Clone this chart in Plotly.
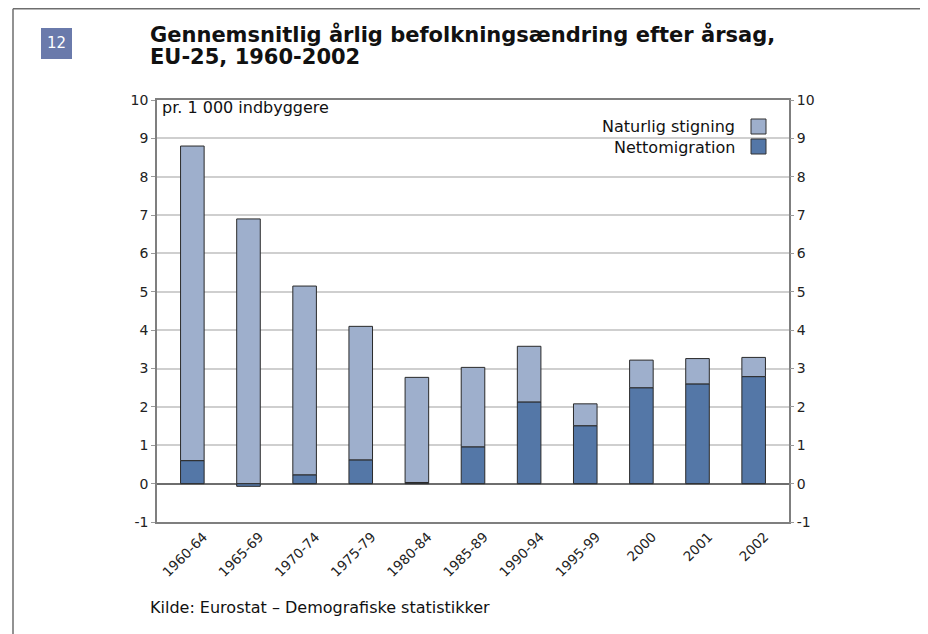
import plotly.graph_objects as go

categories = ["1960-64", "1965-69", "1970-74", "1975-79", "1980-84", "1985-89",
              "1990-94", "1995-99", "2000", "2001", "2002"]
nettomigration = [0.60, -0.07, 0.23, 0.62, 0.03, 0.96, 2.13, 1.51, 2.50, 2.60, 2.79]
naturlig_stigning = [8.20, 6.90, 4.92, 3.48, 2.74, 2.07, 1.45, 0.57, 0.72, 0.66, 0.50]
y_ticks = list(range(-1, 11))
y_ticktext = [str(v) for v in y_ticks]

# page body has an 8px margin; work in reference-pixel coordinates minus that offset
OFF = 8
W, H = 928 - OFF, 634 - OFF
ML, MR, MT, MB = 157 - OFF, 928 - 789, 100 - OFF, 634 - 522
PW, PH = W - ML - MR, H - MT - MB

def px(x):
    return (x - OFF - ML) / PW

def py(y):
    return 1 - (y - OFF - MT) / PH

LIGHT = "#9eafcc"
DARK = "#5477a7"
FONT = "DejaVu Sans"

fig = go.Figure()
fig.add_trace(go.Bar(x=categories, y=nettomigration, name="Nettomigration",
                     marker=dict(color=DARK, line=dict(color="#2a2a2a", width=1))))
fig.add_trace(go.Bar(x=categories, y=naturlig_stigning, name="Naturlig stigning",
                     marker=dict(color=LIGHT, line=dict(color="#2a2a2a", width=1))))
fig.add_trace(go.Scatter(x=categories, y=[None] * len(categories), yaxis="y2",
                         showlegend=False, hoverinfo="skip"))

axis_font = dict(family=FONT, size=14, color="#222")
fig.update_layout(
    width=W, height=H,
    margin=dict(l=ML, r=MR, t=MT, b=MB),
    paper_bgcolor="white", plot_bgcolor="white",
    barmode="relative", bargap=0.58,
    showlegend=False,
    font=dict(family=FONT, color="#111"),
    xaxis=dict(showgrid=False, tickangle=-45, tickfont=dict(family=FONT, size=13.5, color="#222"),
               showline=True, linecolor="#7f7f7f", linewidth=1.5, mirror=True,
               ticks="", ticklabelshift=11, ticklabelstandoff=0),
    yaxis=dict(range=[-1, 10], tickvals=y_ticks, ticktext=y_ticktext, tickfont=axis_font,
               showgrid=True, gridcolor="#cfcfcf", gridwidth=1.5,
               zeroline=True, zerolinecolor="#6e6e6e", zerolinewidth=1.5,
               showline=True, linecolor="#7f7f7f", linewidth=1.5, mirror=True,
               ticks="outside", ticklen=4, tickcolor="#9a9a9a"),
    yaxis2=dict(range=[-1, 10], tickvals=y_ticks, ticktext=y_ticktext, tickfont=axis_font,
                overlaying="y", side="right", showgrid=False, zeroline=False,
                ticks="outside", ticklen=4, tickcolor="#9a9a9a", showline=False),
)

shapes = []
# outer frame
shapes.append(dict(type="line", xref="paper", yref="paper", x0=px(13), x1=px(940),
                   y0=py(8.8), y1=py(8.8), line=dict(color="#6e6e6e", width=1.5)))
shapes.append(dict(type="line", xref="paper", yref="paper", x0=px(13), x1=px(13),
                   y0=py(8.8), y1=py(650), line=dict(color="#6e6e6e", width=1.5)))
# badge
shapes.append(dict(type="rect", xref="paper", yref="paper", x0=px(41), x1=px(72),
                   y0=py(28), y1=py(59), fillcolor="#6a7aab", line=dict(width=0)))
# legend swatches
shapes.append(dict(type="rect", xref="paper", yref="paper", x0=px(751), x1=px(766),
                   y0=py(119), y1=py(134), fillcolor=LIGHT, line=dict(color="#333", width=1)))
shapes.append(dict(type="rect", xref="paper", yref="paper", x0=px(751), x1=px(766),
                   y0=py(139), y1=py(154), fillcolor=DARK, line=dict(color="#333", width=1)))
fig.update_layout(shapes=shapes)

ann = []
def text(t, x, y, size, xanchor="left", color="#111"):
    ann.append(dict(text=t, xref="paper", yref="paper", x=px(x), y=py(y),
                    showarrow=False, xanchor=xanchor, yanchor="middle",
                    font=dict(family=FONT, size=size, color=color)))

text("12", 56.5, 43.5, 15, xanchor="center", color="white")
text("<b>Gennemsnitlig årlig befolkningsændring efter årsag,</b>", 148, 34, 21)
text("<b>EU-25, 1960-2002</b>", 148, 57.5, 21)
text("pr. 1 000 indbyggere", 160, 108, 16)
text("Naturlig stigning", 737, 127, 16, xanchor="right")
text("Nettomigration", 737, 147, 16, xanchor="right")
text("Kilde: Eurostat – Demografiske statistikker", 148, 607, 16)
fig.update_layout(annotations=ann)

fig.write_html("out.html")
